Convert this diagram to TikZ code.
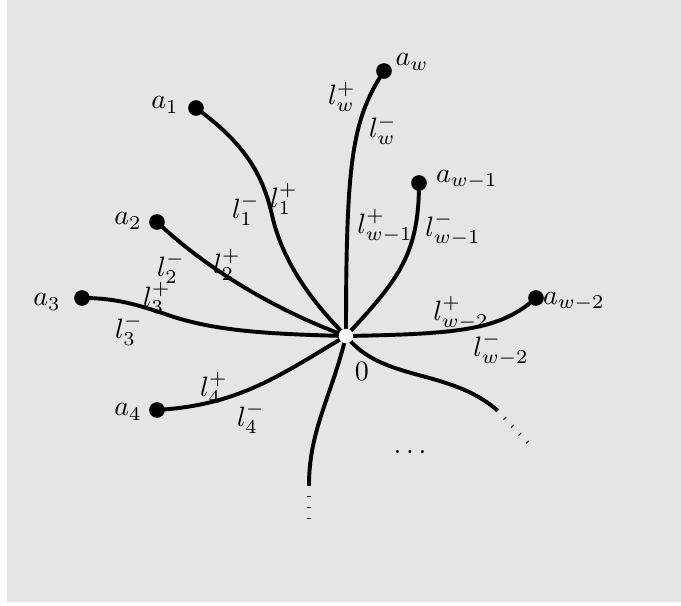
\documentclass[tikz,border=0pt]{standalone}
\usepackage{tikz}
\definecolor{bgc}{RGB}{229,229,229}
\begin{document}
\begin{tikzpicture}[x=0.357pt,y=-0.357pt,
  edge/.style={line width=1.4pt},
  tail/.style={line width=1.4pt,dash pattern=on 0.4pt off 3.5pt,black!85},
  dotnode/.style={circle,fill=black,inner sep=0pt,minimum size=5.6pt},
  hub/.style={circle,fill=white,inner sep=0pt,minimum size=5.2pt},
  lab/.style={inner sep=0pt}]
\useasboundingbox (0,0) rectangle (681,606);
\fill[bgc] (7,0) rectangle (681,602);
\coordinate (c) at (346,336);
\node[dotnode] (aw) at (384,71) {};
\node[dotnode] (aw1) at (419,183) {};
\node[dotnode] (aw2) at (536,298) {};
\node[dotnode] (a1) at (196,108) {};
\node[dotnode] (a2) at (157,222) {};
\node[dotnode] (a3) at (82,298) {};
\node[dotnode] (a4) at (157,410) {};
\coordinate (b1) at (309,485);
\coordinate (b2) at (309,523);
\coordinate (r1) at (497,410);
\coordinate (r2) at (531,446);
% edges
\draw[edge] (c) .. controls (346,160) and (352,120) .. (aw.center);
\draw[edge] (c) .. controls (398,280) and (419,255) .. (aw1.center);
\draw[edge] (c) .. controls (460,334) and (500,330) .. (aw2.center);
\draw[edge] (c) .. controls (310,300) and (282,260) .. (272,215) .. controls (262,170) and (240,140) .. (a1.center);
\draw[edge] (c) .. controls (280,312) and (210,272) .. (a2.center);
\draw[edge] (c) .. controls (260,334) and (210,330) .. (165,314) .. controls (130,302) and (110,298) .. (a3.center);
\draw[edge] (c) .. controls (280,375) and (240,405) .. (a4.center);
\draw[edge] (c) .. controls (332,395) and (309,430) .. (b1);
\draw[edge] (c) .. controls (382,382) and (448,368) .. (r1);
\draw[tail] (b1) -- (b2);
\draw[tail] (r1) -- (r2);
\node[hub] (o) at (c) {};
% labels
\node[lab] (law) at (412,62) {$a_w$};
\node[lab] (law1) at (467,180) {$a_{w-1}$};
\node[lab] (law2) at (574,302) {$a_{w-2}$};
\node[lab] (la1) at (165,105) {$a_1$};
\node[lab] (la2) at (128,221) {$a_2$};
\node[lab] (la3) at (47,302) {$a_3$};
\node[lab] (la4) at (128,412) {$a_4$};
\node[lab] (lzero) at (362,371) {$0$};
\node[lab] (lwp) at (342,97) {$l_w^+$};
\node[lab] (lwm) at (383,130) {$l_w^-$};
\node[lab] (l1m) at (246,210) {$l_1^-$};
\node[lab] (l1p) at (284,199) {$l_1^+$};
\node[lab] (lw1p) at (385,226) {$l_{w-1}^+$};
\node[lab] (lw1m) at (453,229) {$l_{w-1}^-$};
\node[lab] (l2m) at (171,268) {$l_2^-$};
\node[lab] (l2p) at (227,265) {$l_2^+$};
\node[lab] (l3p) at (157,298) {$l_3^+$};
\node[lab] (l3m) at (129,330) {$l_3^-$};
\node[lab] (l4p) at (214,388) {$l_4^+$};
\node[lab] (l4m) at (251,418) {$l_4^-$};
\node[lab] (lw2p) at (461,313) {$l_{w-2}^+$};
\node[lab] (lw2m) at (501,349) {$l_{w-2}^-$};
\node[lab] (ldots) at (410,452) {$\dots$};
\end{tikzpicture}
\end{document}
